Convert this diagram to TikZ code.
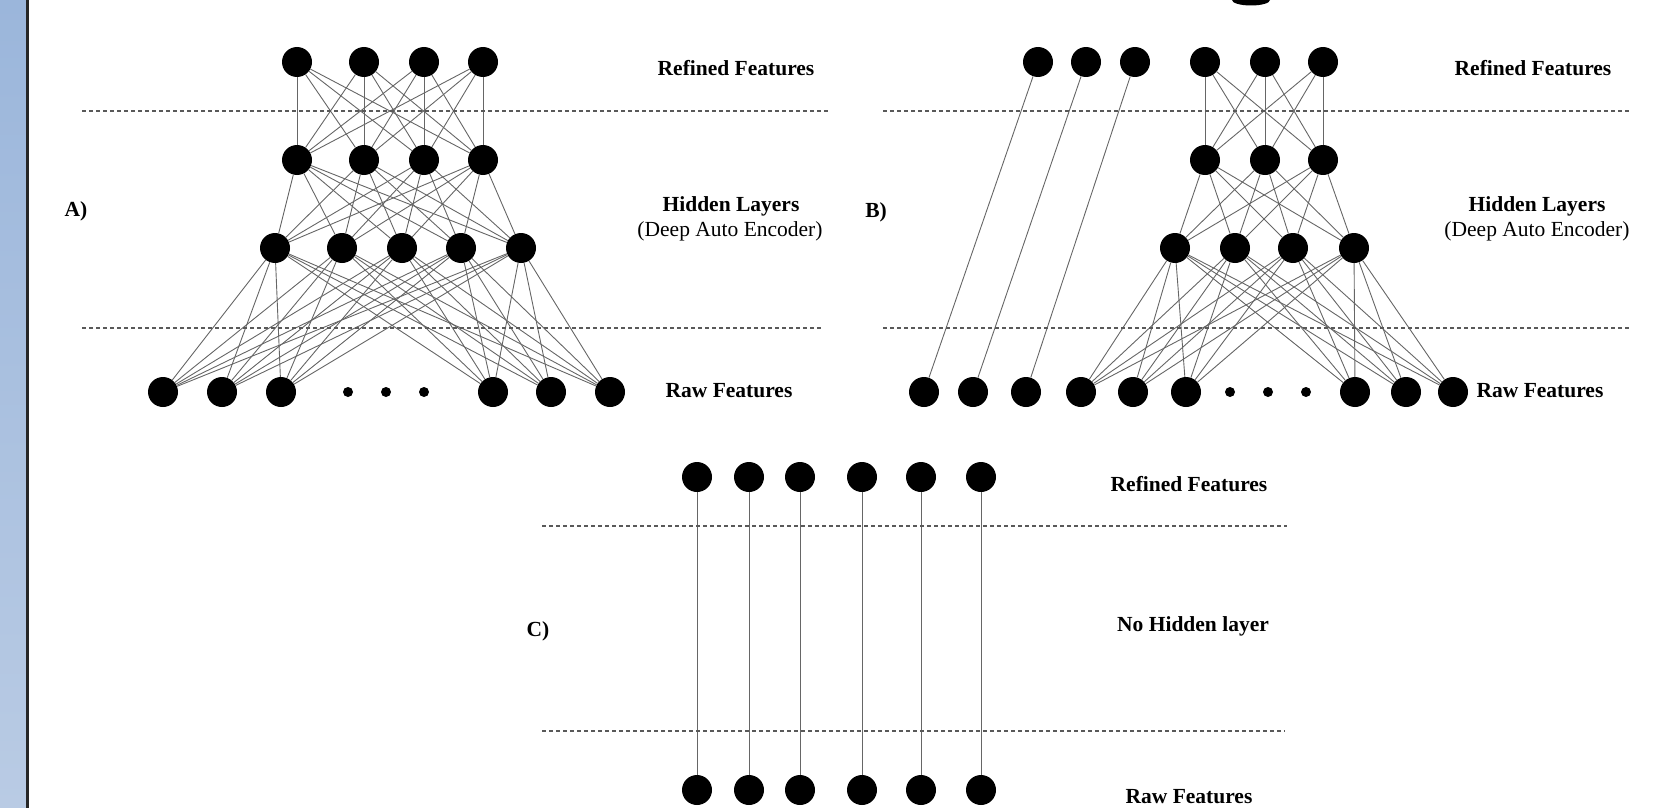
\documentclass[tikz,border=0pt]{standalone}
\usepackage{fontspec}
\setmainfont{Liberation Serif}
\usetikzlibrary{positioning}

\definecolor{striptop}{HTML}{9BB6DB}
\definecolor{stripbottom}{HTML}{B9CBE4}

\begin{document}
\begin{tikzpicture}[x=1pt, y=-1pt,
    neuron/.style={circle, fill=black, inner sep=0pt, minimum size=30pt},
    gapdot/.style={circle, fill=black, inner sep=0pt, minimum size=10pt},
    link/.style={draw=black!60, line width=0.9pt},
    layersep/.style={draw=black!65, line width=1.6pt, dash pattern=on 4pt off 3pt},
    heading/.style={font=\fontsize{21.5}{24}\selectfont\bfseries, anchor=base, inner sep=0pt},
    subheading/.style={font=\fontsize{21.5}{24}\selectfont, anchor=base, inner sep=0pt}]
    \useasboundingbox (0,0) rectangle (1655,808);

    % slide edge on the left and the bit of title at the top
    \shade[top color=striptop, bottom color=stripbottom] (0,0) rectangle (26,808);
    \fill[black!85] (26,0) rectangle (29,808);
    \fill[black] (1251,0) ellipse [x radius=19, y radius=5.5];

    % ---- A) deep auto encoder ----
    \foreach \x [count=\i] in {297,364,424,483} {
        \node[neuron] (A1-\i) at (\x,62) {};
        \node[neuron] (A2-\i) at (\x,160) {};
    }
    \foreach \x [count=\i] in {275,342,402,461,521}
        \node[neuron] (A3-\i) at (\x,248) {};
    \foreach \x [count=\i] in {163,222,281,493,551,610}
        \node[neuron] (A4-\i) at (\x,392) {};
    \foreach \x [count=\i] in {348,386,424}
        \node[gapdot] (Adot-\i) at (\x,392) {};

    \foreach \i in {1,...,4}
        \foreach \j in {1,...,4}
            \draw[link] (A1-\i) -- (A2-\j);
    \foreach \i in {1,...,4}
        \foreach \j in {1,...,5}
            \draw[link] (A2-\i) -- (A3-\j);
    \foreach \i in {1,...,5}
        \foreach \j in {1,...,6}
            \draw[link] (A3-\i) -- (A4-\j);

    \draw[layersep] (82,111) -- (829,111);
    \draw[layersep] (82,328) -- (821,328);

    \node[heading] (A-label) at (76,216) {A)};
    \node[heading] (A-refined) at (736,75) {Refined Features};
    \node[heading] (A-hidden) at (731,211) {Hidden Layers};
    \node[subheading] (A-encoder) at (730,236) {(Deep Auto Encoder)};
    \node[heading] (A-raw) at (729,397) {Raw Features};

    % ---- B) auto encoder with pass-through features ----
    \foreach \x [count=\i] in {1038,1086,1135}
        \node[neuron] (B0-\i) at (\x,62) {};
    \foreach \x [count=\i] in {1205,1265,1323} {
        \node[neuron] (B1-\i) at (\x,62) {};
        \node[neuron] (B2-\i) at (\x,160) {};
    }
    \foreach \x [count=\i] in {1175,1235,1293,1354}
        \node[neuron] (B3-\i) at (\x,248) {};
    \foreach \x [count=\i] in {924,973,1026}
        \node[neuron] (Bskip-\i) at (\x,392) {};
    \foreach \x [count=\i] in {1081,1133,1186,1355,1406,1453}
        \node[neuron] (B4-\i) at (\x,392) {};
    \foreach \x [count=\i] in {1230,1268,1306}
        \node[gapdot] (Bdot-\i) at (\x,392) {};

    \foreach \i in {1,...,3}
        \draw[link] (B0-\i) -- (Bskip-\i);
    \foreach \i in {1,...,3}
        \foreach \j in {1,...,3}
            \draw[link] (B1-\i) -- (B2-\j);
    \foreach \i in {1,...,3}
        \foreach \j in {1,...,4}
            \draw[link] (B2-\i) -- (B3-\j);
    \foreach \i in {1,...,4}
        \foreach \j in {1,...,6}
            \draw[link] (B3-\i) -- (B4-\j);

    \draw[layersep] (883,111) -- (1630,111);
    \draw[layersep] (883,328) -- (1630,328);

    \node[heading] (B-label) at (876,217) {B)};
    \node[heading] (B-refined) at (1533,76) {Refined Features};
    \node[heading] (B-hidden) at (1537,211) {Hidden Layers};
    \node[subheading] (B-encoder) at (1537,236) {(Deep Auto Encoder)};
    \node[heading] (B-raw) at (1540,397) {Raw Features};

    % ---- C) no hidden layer ----
    \foreach \x [count=\i] in {697,749,800,862,921,981} {
        \node[neuron] (C1-\i) at (\x,477) {};
        \node[neuron] (C2-\i) at (\x,790) {};
        \draw[link] (C1-\i) -- (C2-\i);
    }

    \draw[layersep] (542,526) -- (1287,526);
    \draw[layersep] (542,731) -- (1285,731);

    \node[heading] (C-label) at (538,636) {C)};
    \node[heading] (C-refined) at (1189,491) {Refined Features};
    \node[heading] (C-nohidden) at (1193,631) {No Hidden layer};
    \node[heading] (C-raw) at (1189,803) {Raw Features};
\end{tikzpicture}
\end{document}
